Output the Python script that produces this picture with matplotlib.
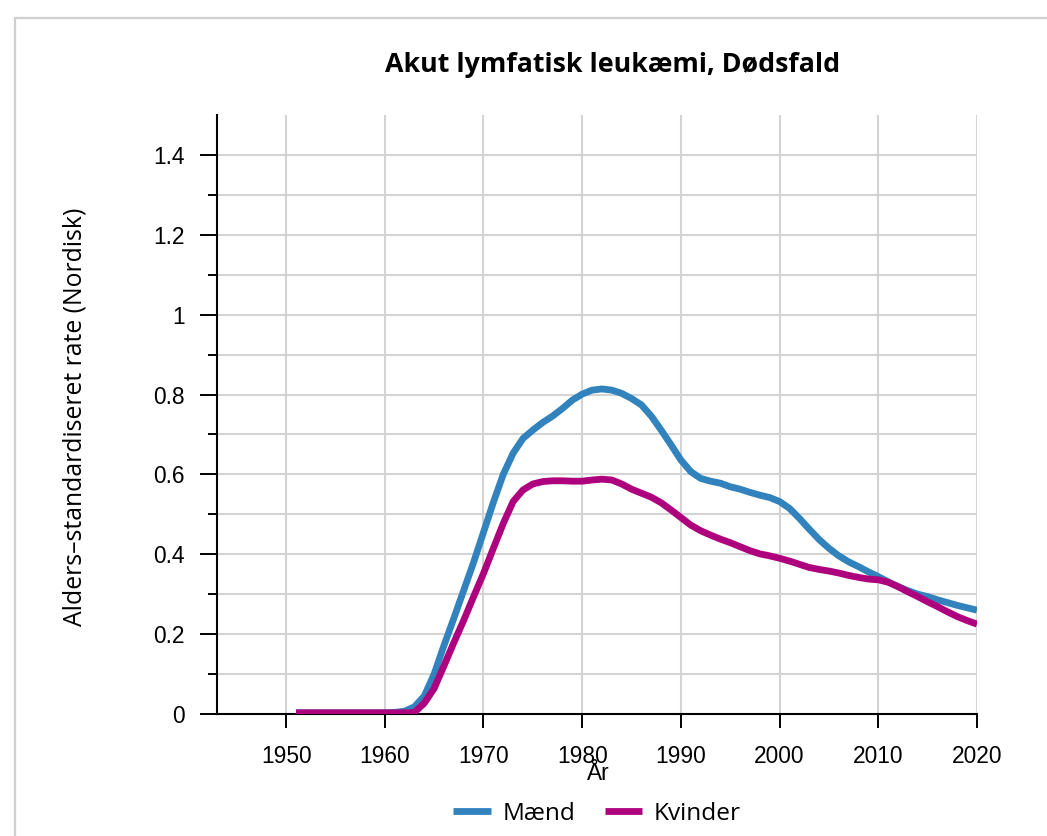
import matplotlib
matplotlib.use("Agg")

import numpy as np
import matplotlib.pyplot as plt
from matplotlib.patches import Rectangle
from matplotlib.ticker import FixedLocator


# -----------------------------
# DATA
# -----------------------------
years = list(range(1951, 2021))

maend = [
    0.003, 0.003, 0.003, 0.003, 0.003, 0.003, 0.003, 0.003, 0.003, 0.003,  # 1951-1960
    0.004, 0.007, 0.018, 0.045, 0.100, 0.172, 0.240, 0.310, 0.380, 0.455,  # 1961-1970
    0.530, 0.600, 0.653, 0.690, 0.711, 0.730, 0.746, 0.765, 0.786, 0.801,  # 1971-1980
    0.811, 0.814, 0.811, 0.803, 0.790, 0.774, 0.746, 0.711, 0.674, 0.636,  # 1981-1990
    0.607, 0.590, 0.583, 0.578, 0.569, 0.563, 0.555, 0.548, 0.542, 0.532,  # 1991-2000
    0.515, 0.490, 0.463, 0.437, 0.415, 0.396, 0.381, 0.369, 0.356, 0.344,  # 2001-2010
    0.331, 0.319, 0.309, 0.300, 0.294, 0.286, 0.279, 0.272, 0.266, 0.260,  # 2011-2020
]

kvinder = [
    0.003, 0.003, 0.003, 0.003, 0.003, 0.003, 0.003, 0.003, 0.003, 0.003,  # 1951-1960
    0.003, 0.003, 0.004, 0.027, 0.064, 0.121, 0.179, 0.235, 0.294, 0.352,  # 1961-1970
    0.415, 0.477, 0.532, 0.561, 0.576, 0.582, 0.584, 0.584, 0.583, 0.583,  # 1971-1980
    0.586, 0.588, 0.586, 0.576, 0.563, 0.553, 0.543, 0.529, 0.511, 0.492,  # 1981-1990
    0.473, 0.459, 0.448, 0.438, 0.429, 0.419, 0.409, 0.401, 0.396, 0.390,  # 1991-2000
    0.383, 0.375, 0.367, 0.362, 0.358, 0.353, 0.347, 0.342, 0.338, 0.336,  # 2001-2010
    0.330, 0.319, 0.306, 0.294, 0.281, 0.269, 0.256, 0.244, 0.234, 0.225,  # 2011-2020
]

series_names = ["Mænd", "Kvinder"]
series_colors = ["#3182bd", "#ae017e"]

x_ticks = [1950, 1960, 1970, 1980, 1990, 2000, 2010, 2020]
y_ticks = [0, 0.2, 0.4, 0.6, 0.8, 1.0, 1.2, 1.4]
y_ticklabels = ["0", "0.2", "0.4", "0.6", "0.8", "1", "1.2", "1.4"]

title = "Akut lymfatisk leukæmi, Dødsfald"
ylabel = "Alders–standardiseret rate (Nordisk)"
xlabel = "År"


# -----------------------------
# FIGURE
# -----------------------------
W, H = 1047, 836
fig = plt.figure(figsize=(W / 100, H / 100), dpi=100)

# light grey frame round the plot area (cut off right and bottom)
fig.patches.append(Rectangle((15 / W, -0.1), 1.2, 1 - 18 / H + 0.1,
                             transform=fig.transFigure, fill=False,
                             edgecolor="#cfcfcf", linewidth=1.6))

ax = fig.add_axes([217 / W, 1 - 714 / H, (977 - 217) / W, (714 - 115) / H])

for vals, name, col in zip([maend, kvinder], series_names, series_colors):
    ax.plot(years, vals, color=col, linewidth=4.9, label=name,
            solid_capstyle="butt", zorder=3)

ax.set_xlim(1943, 2020)
ax.set_ylim(0, 1.5)

# grid
for x in x_ticks:
    ax.axvline(x, color="#d4d4d4", linewidth=1.5, zorder=1)
for y in np.arange(0.1, 1.45, 0.1):
    ax.axhline(y, color="#d4d4d4", linewidth=1.5, zorder=1)

ax.xaxis.set_major_locator(FixedLocator(x_ticks))
ax.yaxis.set_major_locator(FixedLocator(y_ticks))
ax.yaxis.set_minor_locator(FixedLocator([0.1, 0.3, 0.5, 0.7, 0.9, 1.1, 1.3]))
ax.set_yticklabels(y_ticklabels)

for s in ["top", "right"]:
    ax.spines[s].set_visible(False)
for s in ["left", "bottom"]:
    ax.spines[s].set_linewidth(1.5)

ax.tick_params(axis="y", which="major", length=12, width=1.4, pad=11,
               labelsize=16.4)
ax.tick_params(axis="y", which="minor", length=6.5, width=1.4)
ax.tick_params(axis="x", which="major", length=10, width=1.4, pad=12,
               labelsize=16.4)
for lab in ax.get_xticklabels() + ax.get_yticklabels():
    lab.set_family("Liberation Sans")

# axis titles
fig.text(75 / W, 1 - 417 / H, ylabel, rotation=90, ha="center", va="center",
         family="Open Sans", fontsize=17.8)
fig.text(597 / W, 1 - 774 / H, xlabel, ha="center", va="center",
         family="Liberation Sans", fontsize=16.4)

fig.text(613 / W, 1 - 65 / H, title, ha="center", va="center",
         family="Open Sans", fontweight="bold", fontsize=19.3)

fig.legend(loc="center", bbox_to_anchor=(597 / W, 1 - 814 / H), ncol=2,
           frameon=False, handlelength=1.55, handletextpad=0.45,
           columnspacing=1.2, prop={"family": "Open Sans", "size": 17.6})

fig.savefig("out.png", dpi=100)
plt.close()
